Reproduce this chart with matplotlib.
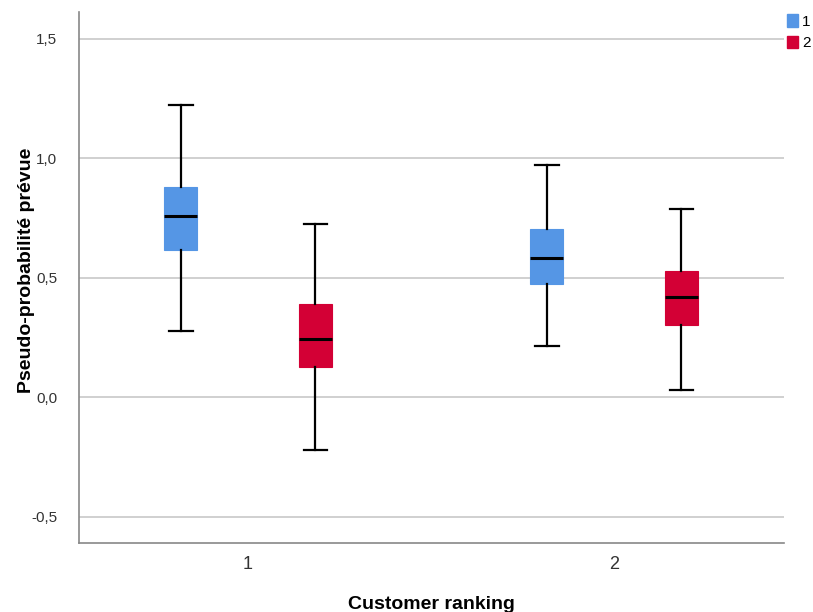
import matplotlib
matplotlib.use('Agg')
import matplotlib.pyplot as plt
from matplotlib.patches import Patch
from matplotlib.ticker import FuncFormatter

plt.rcParams['font.family'] = ['Liberation Sans', 'DejaVu Sans']

# Box statistics (per customer ranking, per group)
categories = [1, 2]
series_names = ['1', '2']
whislo = [[0.276, 0.213], [-0.222, 0.029]]
q1 = [[0.615, 0.473], [0.126, 0.301]]
med = [[0.757, 0.582], [0.243, 0.418]]
q3 = [[0.879, 0.703], [0.389, 0.527]]
whishi = [[1.222, 0.971], [0.724, 0.787]]
colors = ['#5596e5', '#d30035']

fig = plt.figure(figsize=(8.13, 6.12), dpi=100)
ax = fig.add_axes([0.0972, 0.1127, 0.8671, 0.8677])

offsets = [-0.184, 0.184]
for s in range(len(series_names)):
    stats = []
    for c in range(len(categories)):
        stats.append({'whislo': whislo[s][c], 'q1': q1[s][c], 'med': med[s][c],
                      'q3': q3[s][c], 'whishi': whishi[s][c], 'fliers': []})
    pos = [cat + offsets[s] for cat in categories]
    ax.bxp(stats, positions=pos, widths=0.09, patch_artist=True, showfliers=False,
           boxprops=dict(facecolor=colors[s], edgecolor=colors[s], linewidth=0.8),
           medianprops=dict(color='black', linewidth=2.2),
           whiskerprops=dict(color='black', linewidth=1.6),
           capprops=dict(color='black', linewidth=1.6),
           capwidths=0.065, manage_ticks=False, zorder=3)

ax.set_xlim(0.538, 2.464)
ax.set_ylim(-0.611, 1.613)
ax.set_xticks(categories)
ax.set_xticklabels([str(c) for c in categories], fontsize=13, color='#333333')
ax.set_yticks([-0.5, 0.0, 0.5, 1.0, 1.5])
ax.yaxis.set_major_formatter(FuncFormatter(lambda v, p: f'{v:.1f}'.replace('.', ',')))
ax.tick_params(axis='y', length=0, labelsize=11, labelcolor='#333333', pad=15.5)
ax.tick_params(axis='x', length=0, pad=9)
ax.grid(axis='y', color='#c8c8c8', linewidth=1.2, zorder=0)
ax.set_axisbelow(True)

for side in ['top', 'right']:
    ax.spines[side].set_visible(False)
for side in ['left', 'bottom']:
    ax.spines[side].set_color('#888888')
    ax.spines[side].set_linewidth(1.2)

ax.set_xlabel('Customer ranking', fontsize=14, fontweight='bold')
ax.xaxis.set_label_coords(0.5, -0.099)
ax.set_ylabel('Pseudo-probabilité prévue', fontsize=14, fontweight='bold')
ax.yaxis.set_label_coords(-0.063, 0.514)

handles = [Patch(facecolor=colors[i], edgecolor=colors[i]) for i in range(len(series_names))]
fig.legend(handles, series_names, loc='upper left', bbox_to_anchor=(0.964, 0.982),
           frameon=False, fontsize=11, handlelength=0.75, handleheight=0.9,
           handletextpad=0.25, labelspacing=0.45, borderpad=0.2, borderaxespad=0.0)

fig.savefig('out.png', dpi=100, facecolor='white')
